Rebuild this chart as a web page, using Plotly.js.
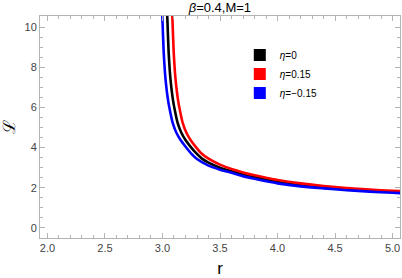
<!DOCTYPE html>
<html>
<head>
<meta charset="utf-8">
<script src="https://cdn.plot.ly/plotly-3.0.1.min.js"></script>
<style>html,body{margin:0;padding:0;background:#fff}#plot{width:402px;height:278px}</style>
</head>
<body>
<div id="plot"></div>
<script>
// eta = 0 (black)
const r_eta0 = [3.033, 3.043, 3.053, 3.063, 3.073, 3.093, 3.113, 3.133, 3.163, 3.203, 3.243, 3.293, 3.343, 3.4, 3.5, 3.6, 3.7, 3.8, 3.9, 4.0, 4.2, 4.4, 4.6, 4.8, 5.0, 5.07];
const L_eta0 = [11.8, 10.3, 8.8, 7.85, 7.2, 6.3, 5.7, 5.2, 4.75, 4.35, 4.05, 3.72, 3.45, 3.25, 3.0, 2.82, 2.66, 2.53, 2.41, 2.3, 2.14, 2.02, 1.93, 1.86, 1.8, 1.78];
// eta = 0.15 (red)
const r_eta015 = [3.077, 3.087, 3.097, 3.107, 3.117, 3.137, 3.157, 3.177, 3.207, 3.247, 3.287, 3.337, 3.4, 3.5, 3.6, 3.7, 3.8, 3.9, 4.0, 4.2, 4.4, 4.6, 4.8, 5.0, 5.07];
const L_eta015 = [11.8, 10.3, 8.8, 7.85, 7.2, 6.3, 5.7, 5.2, 4.75, 4.35, 4.05, 3.72, 3.45, 3.15, 2.93, 2.76, 2.62, 2.5, 2.39, 2.22, 2.09, 1.99, 1.91, 1.85, 1.83];
// eta = -0.15 (blue)
const r_etam015 = [2.99, 3.0, 3.01, 3.02, 3.03, 3.05, 3.07, 3.09, 3.12, 3.16, 3.2, 3.25, 3.3, 3.4, 3.5, 3.6, 3.7, 3.8, 3.9, 4.0, 4.2, 4.4, 4.6, 4.8, 5.0, 5.07];
const L_etam015 = [11.8, 10.3, 8.8, 7.85, 7.2, 6.3, 5.7, 5.2, 4.75, 4.35, 4.05, 3.7, 3.43, 3.1, 2.9, 2.75, 2.58, 2.45, 2.33, 2.22, 2.07, 1.97, 1.88, 1.81, 1.75, 1.73];

const labels = ['<i>η</i>=0', '<i>η</i>=0.15', '<i>η</i>=−0.15'];
const colors = ['#000000', '#ff0000', '#0000ff'];
const xs = [r_eta0, r_eta015, r_etam015];
const ys = [L_eta0, L_eta015, L_etam015];

const traces = [];
for (let i = 0; i < 3; i++) {
  traces.push({x: xs[i], y: ys[i], type: 'scatter', mode: 'lines', line: {color: colors[i], width: 2.6, shape: 'spline', smoothing: 0.6}, showlegend: false, hoverinfo: 'skip'});
}
for (let i = 0; i < 3; i++) {
  traces.push({x: [null], y: [null], type: 'scatter', mode: 'markers', name: labels[i], marker: {symbol: 'square', size: 12, color: colors[i]}, showlegend: true});
}

const axisCommon = {
  showgrid: false, zeroline: false, showline: true, linecolor: '#b3b3b3', linewidth: 1,
  mirror: 'ticks', ticks: 'inside', ticklen: 5, tickcolor: '#b3b3b3', tickwidth: 1,
  tickfont: {family: 'Liberation Sans, Arial, sans-serif', size: 11, color: '#444'}
};

const layout = {
  width: 402, height: 278,
  margin: {l: 40, r: 2, t: 16, b: 40},
  paper_bgcolor: '#fff', plot_bgcolor: '#fff',
  font: {family: 'Liberation Sans, Arial, sans-serif'},
  title: {text: '<i>β</i>=0.4,M=1', x: 0.547, xanchor: 'center', y: 0.99, yanchor: 'top', font: {size: 13, color: '#000'}},
  xaxis: Object.assign({}, axisCommon, {
    range: [1.935, 5.065], tickvals: [2.0, 2.5, 3.0, 3.5, 4.0, 4.5, 5.0], ticktext: ['2.0','2.5','3.0','3.5','4.0','4.5','5.0'],
    minor: {dtick: 0.1, tick0: 2, ticks: 'inside', ticklen: 3, tickcolor: '#b3b3b3', showgrid: false},
    title: {text: 'r', font: {size: 17, color: '#000'}, standoff: 8}
  }),
  yaxis: Object.assign({}, axisCommon, {
    range: [-0.5, 10.55], tickvals: [0, 2, 4, 6, 8, 10],
    minor: {dtick: 0.5, tick0: 0, ticks: 'inside', ticklen: 3, tickcolor: '#b3b3b3', showgrid: false},
    title: {text: 'ℒ', font: {size: 17, color: '#000'}, standoff: 6}
  }),
  legend: {x: 0.555, y: 0.89, xanchor: 'left', yanchor: 'top', bgcolor: 'rgba(0,0,0,0)', font: {size: 10, color: '#000'}, tracegroupgap: 0, itemwidth: 30}
};

Plotly.newPlot('plot', traces, layout, {displayModeBar: false, staticPlot: true});
</script>
</body>
</html>
